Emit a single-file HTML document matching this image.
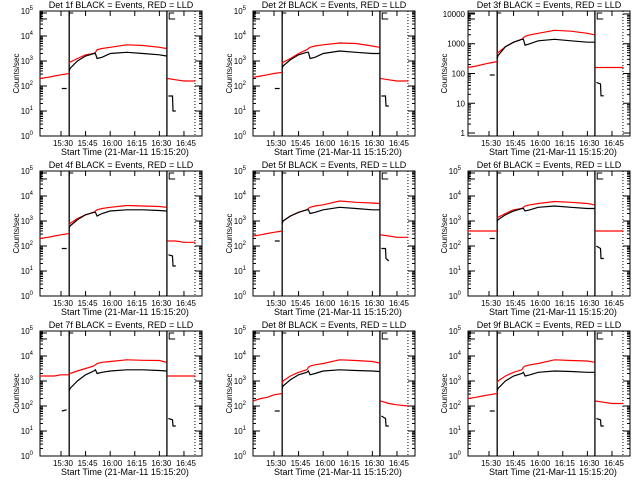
<!DOCTYPE html>
<html><head><meta charset="utf-8">
<style>
html,body{margin:0;padding:0;background:#fff;}
svg{display:block;font-family:"Liberation Sans",sans-serif;}
</style></head>
<body>
<svg id="c" width="640" height="480" viewBox="0 0 640 480" xmlns="http://www.w3.org/2000/svg"></svg>
<script>
// shared time arrays (minutes relative to 15:30)
const preT = [-12.8, -8, -4, 0, 5];
const mainT = [5, 5.5, 10, 15, 20, 21, 22, 25, 30, 40, 50, 60, 64.3];
const postT = [65, 70, 75, 82];
const blackPreT = [0.5, 3.5];
const blackPostT = [65.5, 68, 68.3, 70];
const tickMinutes = [0, 15, 30, 45, 60, 75];
const tickLabels = ["15:30", "15:45", "16:00", "16:15", "16:30", "16:45"];
const panelNames = ["1f","2f","3f","4f","5f","6f","7f","8f","9f"];
// log10 count rates per panel
const redPre = [
 [2.3,2.35,2.4,2.45,2.5],[2.35,2.4,2.45,2.5,2.55],[2.2,2.25,2.3,2.35,2.4],
 [2.3,2.35,2.4,2.45,2.5],[2.4,2.45,2.5,2.55,2.6],[2.6,2.6,2.6,2.6,2.6],
 [3.2,3.2,3.2,3.25,3.25],[2.2,2.3,2.35,2.45,2.5],[2.3,2.35,2.4,2.45,2.5]];
const redMain = [
 [2.9,2.95,3.1,3.25,3.3,3.35,3.45,3.5,3.55,3.65,3.62,3.55,3.5],
 [2.9,2.95,3.1,3.3,3.45,3.5,3.55,3.6,3.65,3.72,3.7,3.6,3.55],
 [2.65,2.7,2.9,3.05,3.15,3.2,3.25,3.3,3.35,3.45,3.42,3.35,3.3],
 [2.8,2.9,3.1,3.25,3.35,3.4,3.45,3.5,3.55,3.62,3.6,3.58,3.55],
 [2.9,3.0,3.2,3.35,3.45,3.5,3.55,3.6,3.65,3.8,3.75,3.72,3.7],
 [3.1,3.15,3.3,3.45,3.5,3.55,3.6,3.65,3.7,3.78,3.75,3.7,3.65],
 [3.3,3.3,3.4,3.5,3.6,3.65,3.7,3.75,3.78,3.85,3.83,3.82,3.75],
 [2.9,3.0,3.2,3.35,3.45,3.55,3.6,3.65,3.7,3.85,3.82,3.78,3.72],
 [2.9,3.0,3.2,3.35,3.45,3.55,3.6,3.65,3.7,3.85,3.82,3.8,3.75]];
const redPost = [
 [2.3,2.25,2.2,2.2],[2.3,2.25,2.2,2.2],[2.2,2.2,2.2,2.2],
 [2.2,2.2,2.15,2.15],[2.45,2.4,2.35,2.35],[2.6,2.6,2.6,2.6],
 [3.2,3.2,3.2,3.2],[2.2,2.1,2.05,2.0],[2.2,2.15,2.1,2.1]];
const blackPre = [[1.9,1.9],[1.9,1.9],[1.95,1.95],[1.9,1.9],[2.2,2.2],[2.3,2.3],[1.8,1.85],[1.8,1.8],[1.8,1.8]];
const blackMain = [
 [2.6,2.7,3.0,3.2,3.3,3.3,3.1,3.15,3.3,3.35,3.3,3.25,3.2],
 [2.7,2.8,3.05,3.25,3.35,3.35,3.1,3.15,3.3,3.4,3.35,3.3,3.3],
 [2.5,2.6,2.9,3.05,3.15,3.15,2.95,3.0,3.1,3.15,3.1,3.05,3.05],
 [2.7,2.8,3.05,3.25,3.35,3.35,3.2,3.3,3.4,3.45,3.45,3.42,3.4],
 [2.9,3.0,3.2,3.35,3.45,3.45,3.3,3.35,3.45,3.55,3.5,3.45,3.45],
 [3.0,3.05,3.25,3.4,3.5,3.5,3.4,3.45,3.55,3.6,3.55,3.5,3.5],
 [2.6,2.7,3.0,3.25,3.4,3.45,3.3,3.35,3.4,3.45,3.45,3.42,3.4],
 [2.7,2.8,3.05,3.25,3.35,3.4,3.25,3.3,3.4,3.45,3.42,3.4,3.38],
 [2.6,2.7,3.0,3.2,3.3,3.35,3.2,3.25,3.35,3.4,3.38,3.35,3.35]];
const blackPost = [[1.6,1.6,1.0,1.0],[1.6,1.6,1.2,1.2],[1.7,1.65,1.25,1.25],[1.65,1.6,1.2,1.2],[1.9,1.9,1.5,1.4],[2.0,1.9,1.5,1.5],[1.5,1.45,1.2,1.2],[1.6,1.5,1.2,1.2],[1.5,1.45,1.2,1.2]];

const lefts=[40,253,468], tops=[11,171,331], W=162, H=125;
const xMin=-12.8, xMax=86;
const NS="http://www.w3.org/2000/svg";
const svg=document.getElementById('c');
function mk(tag,attrs,parent){const e=document.createElementNS(NS,tag);for(const k in attrs)e.setAttribute(k,attrs[k]);(parent||svg).appendChild(e);return e;}

for(let p=0;p<9;p++){
  const L=lefts[p%3], T=tops[Math.floor(p/3)];
  const alt=(p===2);
  const yMin=alt?-0.1:0, yMax=alt?4.1:5;
  const xs=t=>L+(t-xMin)/(xMax-xMin)*W;
  const ys=v=>T+H-(v-yMin)/(yMax-yMin)*H;
  const g=mk('g',{});
  
  
  const box=mk('rect',{x:L,y:T,width:W,height:H,fill:'none',stroke:'#000','stroke-width':1},g);
  
  
  const title=mk('text',{x:L+W/2,y:T-3,'text-anchor':'middle','font-size':9},g);
  title.textContent='Det '+panelNames[p]+' BLACK = Events, RED = LLD';
  
  
  tickMinutes.forEach((m,i)=>{
    const x=xs(m);
    mk('line',{x1:x,x2:x,y1:T+H,y2:T+H-5,stroke:'#000'},g);
    mk('line',{x1:x,x2:x,y1:T,y2:T+5,stroke:'#000'},g);
    const tl=mk('text',{x:x+2,y:T+H+10,'text-anchor':'middle','font-size':8},g);
    tl.textContent=tickLabels[i];
    
    
  });
  const xt=mk('text',{x:L+W/2+4,y:T+H+19,'text-anchor':'middle','font-size':9},g);
  xt.textContent='Start Time (21-Mar-11 15:15:20)';
  
  
  const yt=mk('text',{x:0,y:0,'text-anchor':'middle','font-size':8,transform:'translate('+(L-21)+','+(T+H/2)+') rotate(-90)'},g);
  yt.textContent='Counts/sec';
  
  
  for(let d=Math.ceil(yMin);d<=Math.floor(yMax);d++){
    const y=ys(d);
    mk('line',{x1:L,x2:L+7,y1:y,y2:y,stroke:'#000'},g);
    mk('line',{x1:L+W,x2:L+W-7,y1:y,y2:y,stroke:'#000'},g);
    for(let k=2;k<10;k++){const v=d+Math.log10(k);if(v>yMax)break;const yy=ys(v);
      mk('line',{x1:L,x2:L+3,y1:yy,y2:yy,stroke:'#000'},g);
      mk('line',{x1:L+W,x2:L+W-3,y1:yy,y2:yy,stroke:'#000'},g);}
    const lab=mk('text',{x:L-3,y:y+3,'text-anchor':'end','font-size':8},g);
    if(alt){lab.textContent=String(Math.pow(10,d));}
    else{lab.textContent='10';const s=mk('tspan',{dy:-4,'font-size':6},lab);s.textContent=String(d);lab.setAttribute('x',L-7);}
    
    
  }
  [5,64.6].forEach(m=>{const l=mk('line',{x1:xs(m),x2:xs(m),y1:T,y2:T+H,stroke:'#000','stroke-width':1.3},g);
    });
  mk('path',{d:`M${xs(5)} ${T+6}V${T+2}h4`,fill:'none',stroke:'#000'},g);
  mk('path',{d:`M${xs(66)+6} ${T+8}H${xs(66)}V${T+2}h5`,fill:'none',stroke:'#000'},g);
  mk('path',{d:`M${L+7} ${T+8}H${L+1}V${T+2}h6`,fill:'none',stroke:'#000'},g);
  const dl=mk('line',{x1:xs(81.7),x2:xs(81.7),y1:T,y2:T+H,stroke:'#000','stroke-dasharray':'1,2'},g);
  
  const poly=(ts,vs,col,name)=>{
    let d='';ts.forEach((t,i)=>{d+=(i?'L':'M')+xs(t).toFixed(1)+' '+ys(vs[i]).toFixed(1);});
    const e=mk('path',{d:d,fill:'none',stroke:col,'stroke-width':1.2},g);
    
  };
  poly(preT,redPre[p],'#f00','lld-pre-series');
  poly(mainT,redMain[p],'#f00','lld-main-series');
  poly(postT,redPost[p],'#f00','lld-post-series');
  poly(blackPreT,blackPre[p],'#000','events-pre-series');
  poly(mainT,blackMain[p],'#000','events-main-series');
  poly(blackPostT,blackPost[p],'#000','events-post-series');
}
</script>
</body></html>
